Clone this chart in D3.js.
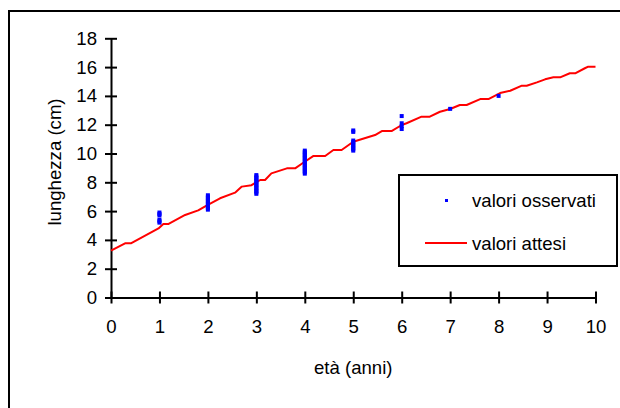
<!DOCTYPE html>
<html>
<head>
<meta charset="utf-8">
<script src="https://cdn.jsdelivr.net/npm/d3@7"></script>
<style>
  html, body { margin: 0; padding: 0; background: #fff; }
  svg { display: block; }
  text { font-family: "Liberation Sans", Arial, sans-serif; font-size: 18.6px; fill: #000; }
</style>
</head>
<body>
<svg id="chart" width="620" height="408"></svg>
<script>
// ---- data ----
const xTicks = [0, 1, 2, 3, 4, 5, 6, 7, 8, 9, 10];
const yTicks = [0, 2, 4, 6, 8, 10, 12, 14, 16, 18];
const xTitle = "età (anni)";
const yTitle = "lunghezza (cm)";
const legendLabels = ["valori osservati", "valori attesi"];

// observed values (età, lunghezza)
const obsAge = [
  1,1,1,1,1,1,
  2,2,2,2,2,2,2,2,2,2,2,
  3,3,3,3,3,3,3,3,3,3,3,3,3,3,
  4,4,4,4,4,4,4,4,4,4,4,4,4,4,4,4,4,
  5,5,5,5,5,5,5,5,5,5,
  6,6,6,6,
  7,
  8
];
const obsLen = [
  5.2,5.3,5.4,5.7,5.8,5.9,
  6.1,6.2,6.3,6.4,6.5,6.6,6.7,6.8,6.9,7.0,7.1,
  7.2,7.3,7.4,7.5,7.6,7.7,7.8,7.9,8.0,8.1,8.2,8.3,8.4,8.5,
  8.6,8.7,8.8,8.9,9.0,9.1,9.2,9.3,9.4,9.5,9.6,9.7,9.8,9.9,10.0,10.1,10.2,
  10.2,10.3,10.4,10.5,10.6,10.7,10.8,10.9,11.5,11.6,
  11.7,11.9,12.1,12.6,
  13.1,
  14.0
];

// expected values curve (età, lunghezza)
const fitAge = [0,0.29,0.41,0.98,1.08,1.18,1.53,1.80,1.99,2.25,2.56,2.70,2.90,3.08,3.18,3.31,3.63,3.80,3.96,4.18,4.42,4.59,4.76,5.0,5.45,5.59,5.79,6.0,6.1,6.41,6.58,6.79,7.0,7.2,7.34,7.62,7.79,8.03,8.24,8.48,8.58,8.79,8.96,9.13,9.27,9.47,9.58,9.78,9.85,10.0];
const fitLen = [3.25,3.76,3.76,4.8,5.1,5.1,5.73,6.05,6.42,6.89,7.28,7.7,7.8,8.16,8.16,8.62,8.97,8.97,9.34,9.83,9.83,10.24,10.24,10.82,11.28,11.56,11.56,11.98,12.1,12.56,12.56,12.9,13.09,13.37,13.37,13.78,13.78,14.2,14.36,14.71,14.71,14.94,15.15,15.29,15.29,15.57,15.57,15.92,16.03,16.03];

// ---- drawing ----
const svg = d3.select("#chart");
const FONT = "'Liberation Sans', Arial, sans-serif";

// outer frame
svg.append("rect")
  .attr("x", 9).attr("y", 11).attr("width", 700).attr("height", 500)
  .attr("fill", "none").attr("stroke", "#000").attr("stroke-width", 2);

const x = d3.scaleLinear().domain([0, 10]).range([111, 595.5]);
const y = d3.scaleLinear().domain([0, 18]).range([297.5, 38.3]);

// y axis
const gy = svg.append("g").attr("transform", `translate(${x(0)},0)`)
  .call(d3.axisLeft(y).tickValues(yTicks).tickSize(6).tickSizeOuter(0));
gy.select(".domain").attr("stroke", "#000").attr("stroke-width", 2);
gy.selectAll(".tick line").attr("x1", -6).attr("x2", 6).attr("stroke", "#000").attr("stroke-width", 2);
gy.selectAll(".tick text").attr("x", -14).style("font-size", "18.6px").style("font-family", FONT);

// x axis
const gx = svg.append("g").attr("transform", `translate(0,${y(0)})`)
  .call(d3.axisBottom(x).tickValues(xTicks).tickSize(6).tickSizeOuter(0));
gx.select(".domain").attr("stroke", "#000").attr("stroke-width", 2);
gx.selectAll(".tick line").attr("y1", -6).attr("y2", 6).attr("stroke", "#000").attr("stroke-width", 2);
gx.selectAll(".tick text").attr("y", 35.5).attr("dy", 0).style("font-size", "18.6px").style("font-family", FONT);

// titles
svg.append("text").attr("x", x(5)).attr("y", 374).attr("text-anchor", "middle").text(xTitle);
svg.append("text").attr("transform", "translate(61,162) rotate(-90)")
  .attr("text-anchor", "middle").text(yTitle);

// expected curve
const fitData = fitAge.map((a, i) => [a, fitLen[i]]);
svg.append("path")
  .datum(fitData)
  .attr("fill", "none").attr("stroke", "#ff0000").attr("stroke-width", 2)
  .attr("stroke-linejoin", "round")
  .attr("d", d3.line().x(d => x(d[0])).y(d => y(d[1])));

// observed points
const obsData = obsAge.map((a, i) => [a, obsLen[i]]);
const ms = 4;
svg.append("g").selectAll("rect").data(obsData).join("rect")
  .attr("x", d => x(d[0]) - ms / 2).attr("y", d => y(d[1]) - ms / 2)
  .attr("width", ms).attr("height", ms).attr("fill", "#0000ff");

// legend
const lg = svg.append("g");
lg.append("rect").attr("x", 399).attr("y", 175).attr("width", 218).attr("height", 91)
  .attr("fill", "#fff").attr("stroke", "#000").attr("stroke-width", 2);
lg.append("rect").attr("x", 445).attr("y", 199).attr("width", 3).attr("height", 3).attr("fill", "#0000ff");
lg.append("text").attr("x", 472).attr("y", 207).text(legendLabels[0]);
lg.append("line").attr("x1", 425).attr("x2", 467).attr("y1", 243).attr("y2", 243)
  .attr("stroke", "#ff0000").attr("stroke-width", 2);
lg.append("text").attr("x", 472).attr("y", 250).text(legendLabels[1]);
</script>
</body>
</html>
